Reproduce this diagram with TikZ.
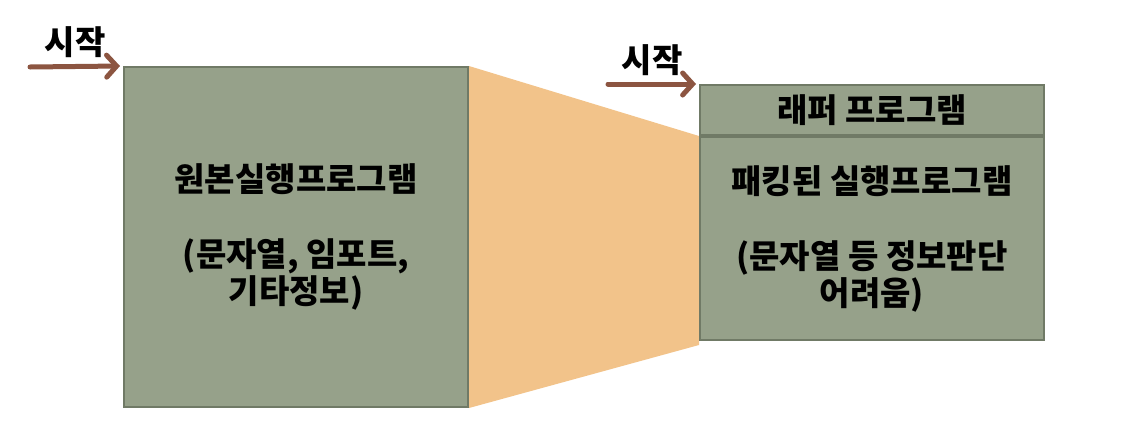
\documentclass[tikz,border=0pt]{standalone}
\usepackage{fontspec}
\setmainfont{Noto Sans CJK KR}
\usepackage{xcolor}
\usetikzlibrary{arrows.meta, positioning, backgrounds}
\definecolor{boxGreen}{RGB}{150,161,138}
\definecolor{boxEdge}{RGB}{112,122,102}
\definecolor{packOrange}{RGB}{242,195,138}
\definecolor{startBrown}{RGB}{140,85,65}
\tikzset{
    progbox/.style={
        rectangle,
        draw=boxEdge,
        line width=2pt,
        fill=boxGreen,
        align=center,
        inner sep=0pt,
        font=\fontsize{33}{37}\selectfont\bfseries
    },
    startarrow/.style={-{Straight Barb[length=10pt,width=22pt,line cap=round]}, line width=5pt, line cap=round, draw=startBrown},
    startlabel/.style={font=\fontsize{33}{36}\selectfont\bfseries, inner sep=0pt}
}
\begin{document}
\begin{tikzpicture}[x=1pt, y=-1pt]
    \useasboundingbox (0,0) rectangle (1122,432);
    % original program
    \node[progbox, minimum width=344pt, minimum height=340pt] (orig) at (296,237)
        {원본실행프로그램\\[38pt](문자열, 임포트,\\기타정보)};
    % packed program with wrapper
    \node[progbox, minimum width=344pt, minimum height=50pt] (wrap) at (872,110) {래퍼 프로그램};
    \node[progbox, below=0pt of wrap, minimum width=344pt, minimum height=203pt] (packed)
        {패킹된 실행프로그램\\[38pt](문자열 등 정보판단\\어려움)};
    \begin{pgfonlayer}{background}
        \fill[packOrange] (orig.north east) -- (packed.north west) -- ([yshift=-4pt]packed.south west) -- (orig.south east) -- cycle;
    \end{pgfonlayer}
    % start arrows
    \coordinate (s1) at (30,67);
    \coordinate (s2) at (608,84);
    \draw[startarrow] (s1) -- node[startlabel, above=6pt]{시작} ([xshift=-3pt]orig.north west);
    \draw[startarrow] (s2) -- node[startlabel, above=6pt]{시작} ([xshift=-3pt]wrap.north west);
\end{tikzpicture}
\end{document}
